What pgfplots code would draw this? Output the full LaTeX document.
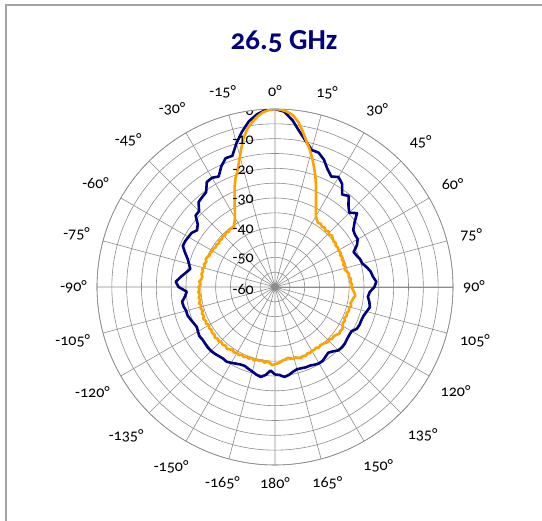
\documentclass[border=0pt]{standalone}
\usepackage{pgfplots}
\pgfplotsset{compat=1.18}
\usepgfplotslibrary{polar}
\usepackage{fontspec}
\setmainfont{Carlito}[Numbers=OldStyle]
\definecolor{navyc}{RGB}{0,0,128}
\definecolor{orangec}{RGB}{255,162,0}
\definecolor{gridc}{RGB}{140,140,140}
\begin{document}
\begin{tikzpicture}
\path[use as bounding box] (0,0) rectangle (542pt,521pt);
\draw[gridc!80, line width=1.6pt] (6pt,0) -- (6pt,516pt) -- (542pt,516pt);
\node[font=\fontsize{29}{30}\selectfont\bfseries, text=navyc] at (284pt,479pt) {26.5 GHz};
\begin{polaraxis}[
  at={(275pt,234pt)}, anchor=center,
  width=356pt, height=356pt, scale only axis,
  xmin=0, xmax=360, ymin=0, ymax=60,
  x filter/.expression={90-x},
  y filter/.expression={y+60},
  xtick={0,15,...,345},
  xticklabels={90°,75°,60°,45°,30°,15°,0°,-15°,-30°,-45°,-60°,-75°,-90°,-105°,-120°,-135°,-150°,-165°,180°,165°,150°,135°,120°,105°},
  ytick={0,10,...,60}, yticklabels={},
  minor ytick={5,15,...,55},
  xmajorgrids, ymajorgrids, yminorgrids,
  major grid style={gridc, line width=0.6pt},
  minor grid style={gridc, line width=0.6pt},
  axis line style={gridc, line width=0.6pt},
  major tick length=0pt, minor tick length=0pt,
  tick label style={font=\fontsize{16}{17}\selectfont},
  xticklabel style={inner xsep=10pt, inner ysep=12pt},
]
\addplot[navyc, line width=2.6pt, line join=round] coordinates {
(-180,-30.5)(-177,-31.8)(-174,-30.2)(-171,-29.3)(-168,-29.8)(-165,-30.5)(-162,-31.0)(-159,-31.5)(-156,-31.4)(-153,-31.0)(-150,-30.5)(-147,-30.0)(-144,-30.2)(-141,-30.0)(-138,-29.7)(-135,-29.5)(-132,-29.5)(-129,-29.7)(-126,-29.8)(-123,-29.6)(-120,-30.0)(-117,-30.4)(-114,-30.0)(-111,-29.5)(-108,-29.0)(-105,-29.0)(-102,-28.5)(-99,-28.3)(-96,-29.5)(-93,-30.2)(-90,-27.5)(-87,-26.5)(-84,-28.0)(-81,-29.5)(-78,-30.8)(-75,-30.0)(-72,-29.0)(-69,-27.5)(-66,-26.0)(-63,-26.0)(-60,-26.3)(-57,-26.5)(-54,-27.5)(-51,-26.5)(-48,-24.0)(-45,-23.8)(-42,-21.5)(-39,-21.0)(-36,-20.5)(-33,-17.8)(-30,-17.5)(-27,-18.2)(-24,-15.5)(-21,-13.5)(-18,-13.5)(-15,-9.8)(-12,-6.5)(-9,-3.5)(-6,-1.5)(-3,-0.2)(0,0)
(3,-0.8)(6,-3.5)(9,-7.0)(12,-9.8)(15,-12.2)(18,-12.4)(21,-14.0)(24,-16.5)(27,-18.2)(30,-17.2)(33,-18.5)(36,-21.5)(39,-20.5)(42,-23.0)(45,-24.6)(48,-22.8)(51,-25.5)(54,-27.4)(57,-27.8)(60,-27.8)(63,-29.0)(66,-31.0)(69,-30.5)(72,-29.8)(75,-29.5)(78,-28.3)(81,-27.3)(84,-26.8)(87,-25.8)(90,-26.5)(93,-28.0)(96,-28.5)(99,-27.8)(102,-27.3)(105,-28.0)(108,-28.6)(111,-28.8)(114,-28.8)(117,-29.0)(120,-30.2)(123,-30.2)(126,-30.0)(129,-29.7)(132,-29.6)(135,-29.8)(138,-30.8)(141,-31.5)(144,-31.0)(147,-30.4)(150,-30.3)(153,-30.6)(156,-31.0)(159,-31.0)(162,-31.2)(165,-31.3)(168,-30.8)(171,-30.0)(174,-29.5)(177,-30.3)(180,-30.5)
};
\addplot[orangec, line width=2.6pt, line join=round] coordinates {
(-180,-34.0)(-178,-33.6)(-176,-34.4)(-174,-34.8)(-172,-34.2)(-170,-35.0)(-168,-34.5)(-166,-34.8)(-164,-34.2)(-162,-34.9)(-160,-34.3)(-158,-34.7)(-156,-34.1)(-154,-34.6)(-152,-34.0)(-150,-34.4)(-148,-33.9)(-146,-34.5)(-144,-34.0)(-142,-33.6)(-140,-34.2)(-138,-33.7)(-136,-34.1)(-134,-33.6)(-132,-34.0)(-130,-33.5)(-128,-34.1)(-126,-33.7)(-124,-34.2)(-122,-33.8)(-120,-34.3)(-118,-33.7)(-116,-34.0)(-114,-33.5)(-112,-34.1)(-110,-33.8)(-108,-34.4)(-106,-33.9)(-104,-34.3)(-102,-33.8)(-100,-34.5)(-98,-34.0)(-96,-34.6)(-94,-34.1)(-92,-34.5)(-90,-34.2)(-88,-34.9)(-86,-34.4)(-84,-35.0)(-82,-35.3)(-80,-34.8)(-78,-35.2)(-76,-34.7)(-74,-35.3)(-72,-34.9)(-70,-35.4)(-68,-34.8)(-66,-35.1)(-64,-35.6)(-62,-35.2)(-60,-35.8)(-58,-35.4)(-56,-36.0)(-54,-35.6)(-52,-36.1)(-50,-35.5)(-48,-35.9)(-46,-35.4)(-44,-35.8)(-42,-35.3)(-40,-35.7)(-38,-35.2)(-36,-35.6)(-34,-35.4)(-33,-34.6)(-32,-34.3)(-30,-33.0)(-28,-31.2)(-26,-29.0)(-24,-26.6)(-22,-23.7)(-20,-21.0)(-18,-19.0)(-16,-16.0)(-14,-12.5)(-12,-8.8)(-10,-6.0)(-8,-4.0)(-6,-2.3)(-4,-1.0)(-2,-0.3)(0,0)
(2,-0.2)(4,-0.8)(6,-1.8)(8,-3.8)(10,-6.6)(12,-9.5)(14,-12.0)(16,-14.6)(18,-17.5)(20,-20.2)(22,-23.1)(24,-26.0)(26,-28.5)(28,-30.6)(30,-32.4)(32,-33.4)(34,-34.0)(36,-33.7)(38,-34.3)(40,-33.9)(42,-34.5)(44,-34.0)(46,-34.6)(48,-34.1)(50,-34.6)(52,-35.0)(54,-34.7)(56,-35.3)(58,-34.9)(60,-35.4)(62,-35.0)(64,-35.6)(66,-35.2)(68,-35.7)(70,-35.3)(72,-35.8)(74,-35.4)(76,-35.8)(78,-35.2)(80,-34.6)(82,-34.9)(84,-34.2)(86,-34.6)(88,-34.0)(90,-34.3)(92,-33.7)(94,-33.2)(96,-32.8)(98,-33.3)(100,-33.6)(102,-34.0)(104,-33.5)(106,-34.1)(108,-33.8)(110,-34.3)(112,-33.9)(114,-34.4)(116,-33.8)(118,-34.2)(120,-33.6)(122,-33.2)(124,-33.5)(126,-33.2)(128,-33.8)(130,-34.2)(132,-34.0)(134,-34.5)(136,-34.2)(138,-34.7)(140,-34.9)(142,-35.2)(144,-34.8)(146,-35.3)(148,-35.0)(150,-35.2)(152,-34.8)(154,-35.1)(156,-34.6)(158,-34.9)(160,-34.5)(162,-34.9)(164,-35.3)(166,-35.0)(168,-35.5)(170,-35.7)(172,-35.3)(174,-35.1)(176,-34.6)(178,-34.2)(180,-34.0)
};
\foreach \r/\lab in {60/0,50/-10,40/-20,30/-30,20/-40,10/-50,0/-60}{
  \edef\tmp{\noexpand\node[anchor=east, font=\noexpand\fontsize{16}{17}\noexpand\selectfont, inner sep=0pt, xshift=-21pt, yshift=-2pt] at (axis cs:90,\r) {\lab};}
  \tmp
}
\end{polaraxis}
\end{tikzpicture}
\end{document}
